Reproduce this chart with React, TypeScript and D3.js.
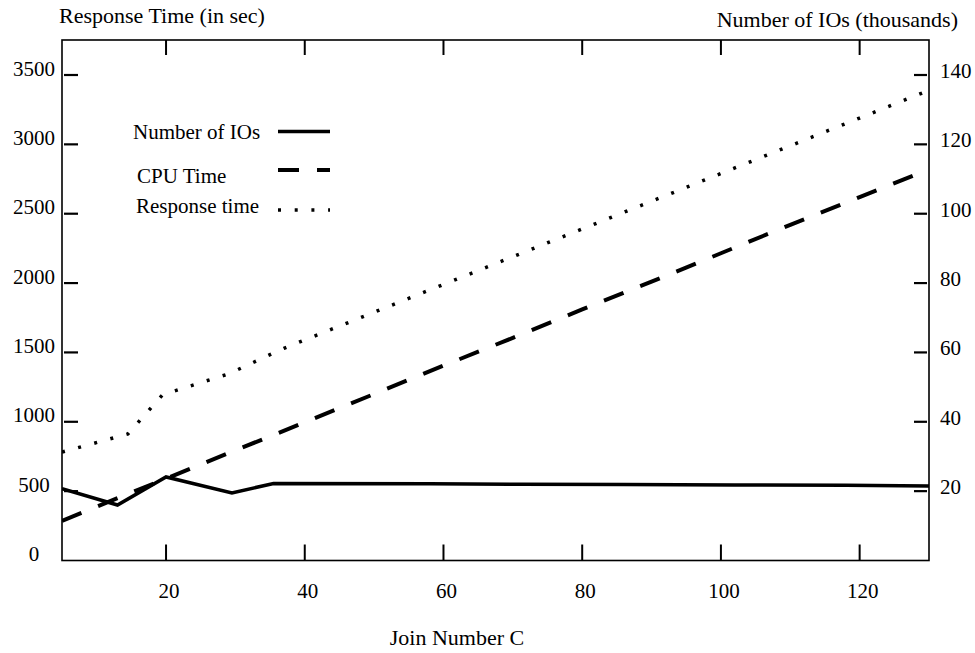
import React from 'react';
import * as d3 from 'd3';

// Join number C on the x axis
const xTicks = [20, 40, 60, 80, 100, 120];
const leftTicks = [0, 500, 1000, 1500, 2000, 2500, 3000, 3500];
const rightTicks = [20, 40, 60, 80, 100, 120, 140];

// Number of IOs (thousands), right axis
const ioJoins = [5, 13, 20, 29.5, 35.5, 58, 71, 86, 102, 118, 130];
const ioValues = [20.7, 16.0, 24.1, 19.5, 22.2, 22.1, 22.0, 21.9, 21.8, 21.7, 21.5];

// CPU time (sec), left axis
const cpuJoins = [5, 13, 20, 29, 36, 50, 60, 70, 80, 90, 100, 110, 120, 130];
const cpuValues = [286, 450, 590, 775, 915, 1200, 1405, 1605, 1810, 2010, 2215, 2420, 2620, 2820];

// Response time (sec), left axis
const respJoins = [5, 14.5, 19.5, 29, 37, 50, 60, 70, 80, 90, 100, 110, 120, 130];
const respValues = [782, 912, 1195, 1345, 1530, 1790, 1990, 2190, 2390, 2590, 2790, 2990, 3190, 3390];

const legendLabels = ['Number of IOs', 'CPU Time', 'Response time'];

const W = 975;
const H = 653;
const left = 62;
const right = 929;
const top = 40;
const bottom = 560.5;

const FONT = '"Liberation Serif", "DejaVu Serif", serif';

const x = d3.scaleLinear().domain([5, 130]).range([left, right]);
const yLeft = d3.scaleLinear().domain([0, 3500]).range([bottom, 75]);
const yRight = d3.scaleLinear().domain([0, 140]).range([bottom, 75]);

const styles = [
  { width: 3.5, dash: undefined },
  { width: 4, dash: '21 18' },
  { width: 3.5, dash: '3 13.7' },
];

const App = () => {
  const toPts = (xs: number[], ys: number[]) => xs.map((d, i) => [d, ys[i]] as [number, number]);

  const lineL = d3.line<[number, number]>().x(d => x(d[0])).y(d => yLeft(d[1]));
  const lineR = d3.line<[number, number]>().x(d => x(d[0])).y(d => yRight(d[1]));

  const paths = [
    lineR(toPts(ioJoins, ioValues)),
    lineL(toPts(cpuJoins, cpuValues)),
    lineL(toPts(respJoins, respValues)),
  ];

  // legend layout
  const legendText = [139, 183, 213];
  const legendLine = [131.5, 170, 210];
  const legendX = [133, 137, 136];

  return (
    <svg width={W} height={H} style={{ position: 'absolute', left: 0, top: 0, background: '#fff' }} fontFamily={FONT}>
      <defs>
        <clipPath id="plot">
          <rect x={left} y={top} width={right - left} height={bottom - top} />
        </clipPath>
      </defs>

      {/* frame */}
      <rect x={left} y={top} width={right - left} height={bottom - top} fill="none" stroke="#000" strokeWidth={1.6} />

      {/* x ticks top and bottom */}
      {xTicks.map(t => (
        <g key={'x' + t}>
          <line x1={x(t)} x2={x(t)} y1={top} y2={top + 15} stroke="#000" strokeWidth={2} />
          <line x1={x(t)} x2={x(t)} y1={bottom} y2={bottom - 16} stroke="#000" strokeWidth={2} />
          <text x={x(t) + 3} y={598} fontSize={21} textAnchor="middle">{t}</text>
        </g>
      ))}

      {/* left axis */}
      {leftTicks.map(t => (
        <g key={'l' + t}>
          {t > 0 && <line x1={left + 2} x2={left + 16} y1={yLeft(t)} y2={yLeft(t)} stroke="#000" strokeWidth={2.2} />}
          <text x={34} y={yLeft(t) + 0.5} fontSize={21} textAnchor="middle">{t}</text>
        </g>
      ))}

      {/* right axis */}
      {rightTicks.map(t => (
        <g key={'r' + t}>
          <line x1={right - 15} x2={right - 2} y1={yRight(t)} y2={yRight(t)} stroke="#000" strokeWidth={2.2} />
          <text x={940} y={yRight(t) + 3} fontSize={21}>{t}</text>
        </g>
      ))}

      {/* series */}
      <g clipPath="url(#plot)">
        {paths.map((p, i) => (
          <path key={i} d={p || ''} fill="none" stroke="#000" strokeWidth={styles[i].width}
            strokeDasharray={styles[i].dash} strokeLinejoin="miter" />
        ))}
      </g>

      {/* legend */}
      {legendLabels.map((lab, i) => (
        <g key={lab}>
          <text x={legendX[i]} y={legendText[i]} fontSize={21}>{lab}</text>
          <line x1={278} x2={330} y1={legendLine[i]} y2={legendLine[i]} stroke="#000"
            strokeWidth={styles[i].width} strokeDasharray={styles[i].dash} />
        </g>
      ))}

      {/* titles */}
      <text x={59} y={22.5} fontSize={22}>Response Time (in sec)</text>
      <text x={958} y={27} fontSize={22} textAnchor="end">Number of IOs (thousands)</text>
      <text x={457} y={645} fontSize={22} textAnchor="middle">Join Number C</text>
    </svg>
  );
};

export default App;
